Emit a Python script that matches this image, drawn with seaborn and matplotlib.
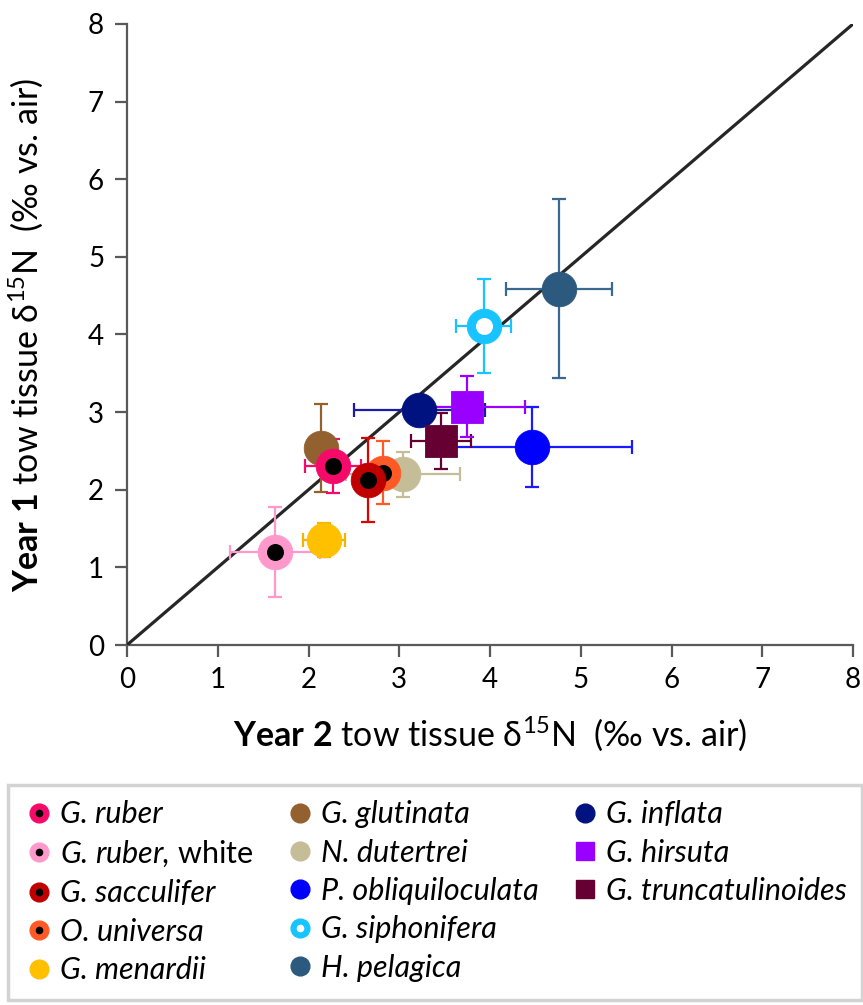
import matplotlib
matplotlib.use("Agg")
import matplotlib.pyplot as plt
import seaborn as sns
import pandas as pd
from matplotlib.lines import Line2D

# ---------------- data ----------------
species = ["H. pelagica", "G. siphonifera", "P. obliquiloculata", "G. inflata",
           "G. truncatulinoides", "G. hirsuta", "N. dutertrei", "G. glutinata",
           "G. menardii", "G. ruber, white", "O. universa", "G. sacculifer", "G. ruber"]
year2 = [4.76, 3.93, 4.46, 3.22, 3.46, 3.75, 3.04, 2.14, 2.17, 1.63, 2.82, 2.66, 2.27]
year1 = [4.59, 4.11, 2.55, 3.03, 2.63, 3.07, 2.20, 2.54, 1.35, 1.20, 2.22, 2.13, 2.31]
xerr = [0.58, 0.30, 1.10, 0.72, 0.33, 0.64, 0.63, 0.10, 0.23, 0.50, 0.15, 0.15, 0.31]
yerr = [1.15, 0.60, 0.52, 0.10, 0.36, 0.39, 0.29, 0.57, 0.22, 0.58, 0.41, 0.54, 0.35]
colors = ["#2B5A7E", "#17C4FF", "#0000FF", "#00127F", "#660033", "#9900FF", "#C4BD97",
          "#93602F", "#FFC000", "#FF99CC", "#FF5A25", "#C00000", "#F50A6A"]
ecolors = ["#3A6890", "#17C4FF", "#1A1AFF", "#1B1BA8", "#660033", "#9900FF", "#C4BD97",
           "#93602F", "#F2B400", "#FF99CC", "#FF5A25", "#E00000", "#F50A6A"]
markers = ["o", "o", "o", "o", "s", "s", "o", "o", "o", "o", "o", "o", "o"]
inner = [None, "white", None, None, None, None, None, None, None, "black", "black", "black", "black"]

legend_order = ["G. ruber", "G. ruber, white", "G. sacculifer", "O. universa", "G. menardii",
                "G. glutinata", "N. dutertrei", "P. obliquiloculata", "G. siphonifera", "H. pelagica",
                "G. inflata", "G. hirsuta", "G. truncatulinoides"]

ticks = [0, 1, 2, 3, 4, 5, 6, 7, 8]

df = pd.DataFrame({"species": species, "year2": year2, "year1": year1,
                   "xerr": xerr, "yerr": yerr, "color": colors, "ecolor": ecolors,
                   "marker": markers, "inner": inner})

# ---------------- style ----------------
sns.set_theme(style="white")
plt.rcParams["font.family"] = ["Lato", "DejaVu Sans"]
plt.rcParams["mathtext.fontset"] = "custom"
plt.rcParams["mathtext.rm"] = "Lato"
plt.rcParams["mathtext.it"] = "Lato:italic"
plt.rcParams["mathtext.bf"] = "Lato:bold"
plt.rcParams["mathtext.default"] = "regular"

fig = plt.figure(figsize=(8.63, 10.05), dpi=100)
ax = fig.add_axes([127 / 863, 1 - 645 / 1005, (853 - 127) / 863, (645 - 24) / 1005])

ax.plot([0, 8], [0, 8], color="#262626", lw=2.3, zorder=1, solid_capstyle="butt")

for i, r in df.iterrows():
    z = 3 + i * 0.1
    ax.errorbar(r.year2, r.year1, xerr=r.xerr, yerr=r.yerr, fmt="none",
                ecolor=r.ecolor, elinewidth=1.6, capsize=4.8, capthick=1.6, zorder=2)
    s = 560 if r.marker == "s" else 620
    sns.scatterplot(x=[r.year2], y=[r.year1], marker=r.marker, s=s, color=r.color,
                    edgecolor=r.color, linewidth=0.6, ax=ax, zorder=z, legend=False)
    if r.inner is not None:
        sns.scatterplot(x=[r.year2], y=[r.year1], marker="o", s=150, color=r.inner,
                        linewidth=0, ax=ax, zorder=z + 0.05, legend=False)

ax.set_xlim(0, 8)
ax.set_ylim(0, 8)
ax.set_xticks(ticks)
ax.set_yticks(ticks)
ax.set_xticklabels([str(t) for t in ticks])
ax.set_yticklabels([str(t) for t in ticks])
sns.despine(ax=ax)
for sp in ["left", "bottom"]:
    ax.spines[sp].set_color("#595959")
    ax.spines[sp].set_linewidth(1.6)
    ax.spines[sp].set_zorder(0.5)
ax.tick_params(axis="both", direction="out", length=8.5, width=1.6, color="#595959",
               labelcolor="black", labelsize=20, left=True, bottom=True)
ax.tick_params(axis="y", pad=8)
ax.tick_params(axis="x", pad=7)

ax.set_xlabel(r"$\mathbf{Year\ 2}$ tow tissue δ$^{15}$N  (‰ vs. air)", fontsize=24.5, color="black")
ax.set_ylabel(r"$\mathbf{Year\ 1}$ tow tissue δ$^{15}$N  (‰ vs. air)", fontsize=24.5, color="black")
ax.xaxis.set_label_coords(0.5, -0.112)
ax.yaxis.set_label_coords(-0.113, 0.5)

# ---------------- legend ----------------
handles = []
labels = []
for name in legend_order:
    r = df[df.species == name].iloc[0]
    ms = 13.5 if r.marker == "o" else 13
    main = Line2D([], [], ls="none", marker=r.marker, markersize=ms, color=r.color,
                  markeredgecolor=r.color)
    if r.inner is not None:
        dot = Line2D([], [], ls="none", marker="o", markersize=5.5, color=r.inner,
                     markeredgewidth=0)
        handles.append((main, dot))
    else:
        handles.append(main)
    if name == "G. ruber, white":
        labels.append(r"G. ruber,$\mathrm{\ white}$")
    else:
        labels.append(name)
# blanks to make column layout 5/5/3
for _ in range(2):
    handles.append(Line2D([], [], ls="none", marker=None, alpha=0))
    labels.append("")

leg = fig.legend(handles, labels, loc="upper left", bbox_to_anchor=(8 / 863, 1 - 785 / 1005),
                 ncol=3, frameon=True, fancybox=False, edgecolor="#C8C8C8",
                 borderpad=0.5, borderaxespad=0, handlelength=1.0, handletextpad=0.2,
                 columnspacing=1.0, labelspacing=0.34,
                 prop={"family": ["Lato", "DejaVu Sans"], "style": "italic", "size": 22})
leg.get_frame().set_linewidth(2.5)
for t in leg.get_texts():
    t.set_color("black")

fig.savefig("out.png", dpi=100)
